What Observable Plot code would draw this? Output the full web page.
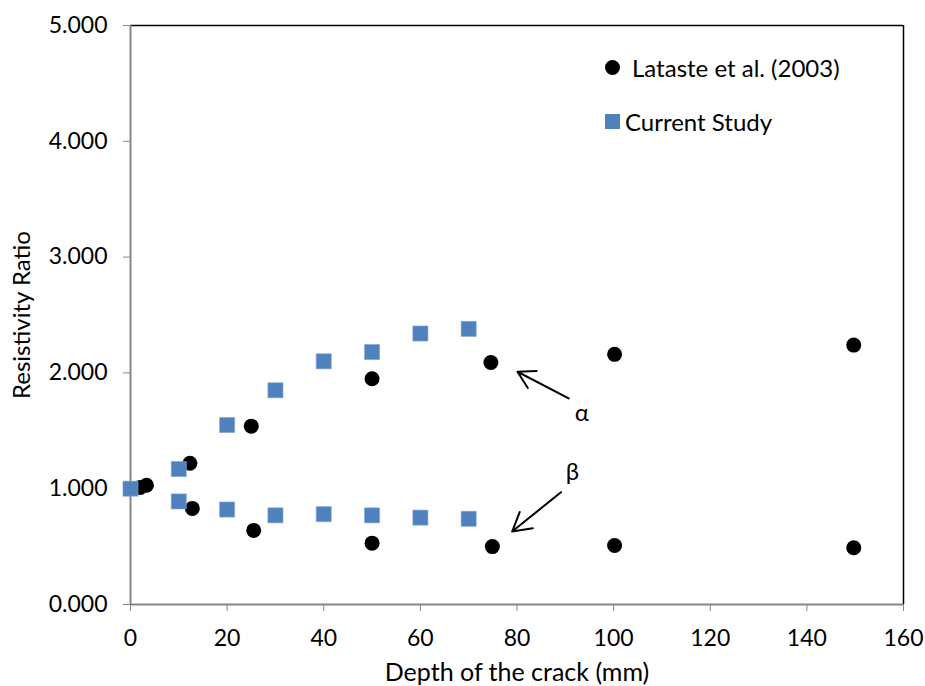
<!DOCTYPE html>
<html>
<head>
<meta charset="utf-8">
<script src="https://cdn.jsdelivr.net/npm/d3@7"></script>
<script src="https://cdn.jsdelivr.net/npm/@observablehq/plot@0.6"></script>
<style>
  body { margin: 0; background: #fff; }
  #wrap { position: relative; width: 925px; height: 686px; font-family: Lato, "Open Sans", sans-serif; }
  #legend { position: absolute; left: 0; top: 0; pointer-events: none; }
  .item { position: absolute; display: flex; align-items: center; font-size: 24px; color: #000; white-space: nowrap; }
  .circle { width: 15px; height: 15px; border-radius: 50%; background: #000; }
  .square { width: 15px; height: 15px; background: #4F81BD; }
</style>
</head>
<body>
<div id="wrap">
  <div id="legend"></div>
</div>
<script>
// ---- Data ----
const latasteDepth = [2, 3.3, 12.3, 12.8, 25, 25.5, 50, 50, 74.6, 74.9, 100.2, 100.2, 149.7, 149.7];
const latasteRatio = [1.01, 1.03, 1.22, 0.83, 1.54, 0.64, 1.95, 0.53, 2.09, 0.50, 2.16, 0.51, 2.24, 0.49];

const currentDepth = [0, 10, 10, 20, 20, 30, 30, 40, 40, 50, 50, 60, 60, 70, 70];
const currentRatio = [1.00, 1.17, 0.89, 1.55, 0.82, 1.85, 0.77, 2.10, 0.78, 2.18, 0.77, 2.34, 0.75, 2.38, 0.74];

const seriesNames = ["Lataste et al. (2003)", "Current Study"];

const xTicks = [0, 20, 40, 60, 80, 100, 120, 140, 160];
const yTicks = [0, 1, 2, 3, 4, 5];

const xTitle = "Depth of the crack (mm)";
const yTitle = "Resistivity Ratio";

// annotation arrows (data coordinates): label, tail (x1,y1) -> head (x2,y2), label position
const annLabels = ["α", "β"];
const annX1 = [90.7, 89.1];
const annY1 = [1.78, 0.97];
const annX2 = [80.1, 79.0];
const annY2 = [2.01, 0.63];
const annTextX = [93.4, 91.5];
const annTextY = [1.65, 1.14];

// ---- Build tables ----
const lataste = latasteDepth.map((d, i) => ({x: d, y: latasteRatio[i]}));
const current = currentDepth.map((d, i) => ({x: d, y: currentRatio[i]}));
const anns = annLabels.map((l, i) => ({label: l, x1: annX1[i], y1: annY1[i], x2: annX2[i], y2: annY2[i], tx: annTextX[i], ty: annTextY[i]}));

const axisGray = "#868686";
const fontFam = "Lato, 'Open Sans', sans-serif";

const chart = Plot.plot({
  width: 925,
  height: 686,
  marginLeft: 130,
  marginRight: 22,
  marginTop: 25,
  marginBottom: 82,
  style: {fontFamily: fontFam, background: "white", color: "black", overflow: "visible"},
  x: {domain: [0, 160]},
  y: {domain: [0, 5]},
  marks: [
    Plot.ruleY([5], {stroke: "black", strokeWidth: 1.5}),
    Plot.ruleX([160], {stroke: "black", strokeWidth: 1.5}),
    Plot.axisY({ticks: yTicks, tickFormat: d3.format(".3f"), tickSize: 7, tickPadding: 16, stroke: axisGray, fill: "black", fontSize: 23, label: null}),
    Plot.axisX({ticks: xTicks, tickFormat: d3.format("d"), tickSize: 7, tickPadding: 18, stroke: axisGray, fill: "black", fontSize: 23, label: null}),
    Plot.ruleX([0], {stroke: axisGray, strokeWidth: 2}),
    Plot.ruleY([0], {stroke: axisGray, strokeWidth: 2}),
    Plot.text([xTitle], {frameAnchor: "bottom", dy: 68, fontSize: 25, fill: "black", textAnchor: "middle", lineAnchor: "middle"}),
    Plot.text([yTitle], {frameAnchor: "left", dx: -108, rotate: -90, fontSize: 24, fill: "black", textAnchor: "middle", lineAnchor: "middle"}),
    Plot.dot(lataste, {x: "x", y: "y", r: 7.5, fill: "black", stroke: "none"}),
    Plot.dot(current, {x: "x", y: "y", symbol: "square", r: 8.5, fill: "#4F81BD", stroke: "#7da3d4", strokeWidth: 0.6}),
    Plot.arrow(anns, {x1: "x1", y1: "y1", x2: "x2", y2: "y2", bend: 0, headLength: 17, headAngle: 60, stroke: "black", strokeWidth: 2}),
    Plot.text(anns, {x: "tx", y: "ty", text: "label", fontSize: 24, fill: "black"})
  ]
});

const wrap = document.getElementById("wrap");
wrap.insertBefore(chart, wrap.firstChild);

// legend overlay (inside plot area, top-right)
const legend = document.getElementById("legend");
const legendItems = [
  {name: seriesNames[0], cls: "circle", left: 605, top: 53, gap: 12},
  {name: seriesNames[1], cls: "square", left: 605, top: 107, gap: 5}
];
legendItems.forEach(it => {
  const row = document.createElement("div");
  row.className = "item";
  row.style.left = it.left + "px";
  row.style.top = it.top + "px";
  const sw = document.createElement("div");
  sw.className = it.cls;
  sw.style.marginRight = it.gap + "px";
  const tx = document.createElement("span");
  tx.textContent = it.name;
  row.appendChild(sw);
  row.appendChild(tx);
  legend.appendChild(row);
});
</script>
</body>
</html>
